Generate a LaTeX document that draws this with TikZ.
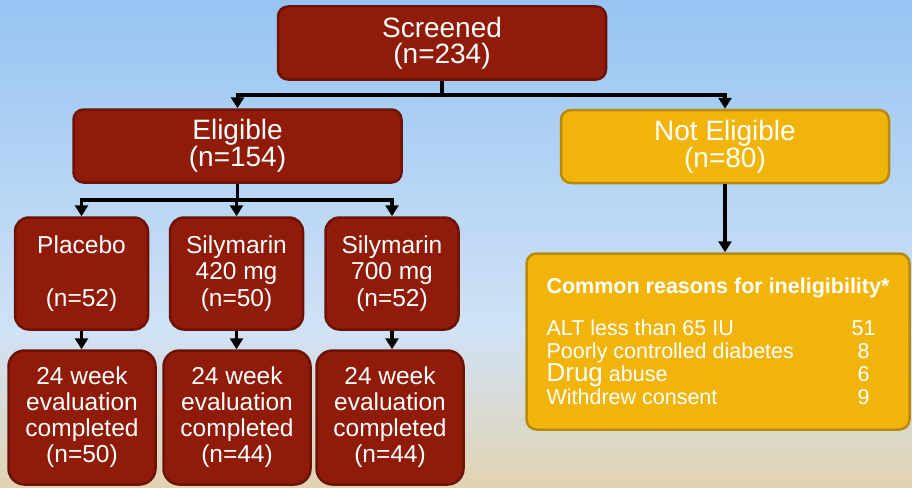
\documentclass[tikz,border=0pt]{standalone}
\usepackage{fontspec}
\setmainfont{Liberation Sans}
\usetikzlibrary{arrows.meta}
\definecolor{brique}{RGB}{143,27,8}
\definecolor{briquebord}{RGB}{108,19,6}
\definecolor{ocre}{RGB}{240,180,10}
\definecolor{ocrebord}{RGB}{184,138,12}
\definecolor{cielhaut}{RGB}{150,196,242}
\definecolor{cielmilieu}{RGB}{208,226,246}
\definecolor{sable}{RGB}{226,211,178}
\begin{document}
\begin{tikzpicture}[x=1pt,y=-1pt,
		rouge/.style={draw=briquebord,fill=brique,line width=2.5pt,rounded corners=10pt,text=white,align=center},
		jaune/.style={draw=ocrebord,fill=ocre,line width=2.5pt,rounded corners=10pt,text=white},
		grand/.style={font=\fontsize{28}{26}\selectfont,minimum width=328pt,minimum height=73pt},
		bras/.style={rouge,rounded corners=14pt,font=\fontsize{24.5}{26.5}\selectfont,minimum width=133pt,minimum height=112pt},
		suivi/.style={rouge,rounded corners=16pt,font=\fontsize{24.5}{26}\selectfont,minimum width=147pt,minimum height=134pt},
		lien/.style={line width=3.5pt},
		fleche/.style={lien,-{Triangle[length=11pt,width=13pt]}}]
		%Fond
		\shade[top color=cielhaut,bottom color=cielmilieu] (0,0) rectangle (912,330);
		\shade[top color=cielmilieu,bottom color=sable] (0,330) rectangle (912,487);
		\useasboundingbox (0,0) rectangle (912,487);
		%Noeuds du diagramme
		\node[rouge,grand] (S0) at (442,43) {Screened\\(n=234)};
		\node[rouge,grand] (E1) at (237.5,146) {Eligible\\(n=154)};
		\node[jaune,grand,align=center] (N1) at (725,146.5) {Not Eligible\\(n=80)};
		\node[bras] (B1) at (81.5,273.5) {Placebo\\[26pt](n=52)};
		\node[bras] (B2) at (236.5,273.5) {Silymarin\\420 mg\\(n=50)};
		\node[bras] (B3) at (392,273.5) {Silymarin\\700 mg\\(n=52)};
		\node[suivi] (C1) at (82,417.5) {24 week\\evaluation\\completed\\(n=50)};
		\node[suivi] (C2) at (237,417.5) {24 week\\evaluation\\completed\\(n=44)};
		\node[suivi] (C3) at (390,417.5) {24 week\\evaluation\\completed\\(n=44)};
		\node[jaune,minimum width=383pt,minimum height=176pt,align=left,font=\fontsize{21.5}{23}\selectfont] (R1) at (718,341.5) {%
			{\bfseries Common reasons for ineligibility*}\\[19pt]
			\makebox[300pt][l]{ALT less than 65 IU}\makebox[34pt]{51}\\
			\makebox[300pt][l]{Poorly controlled diabetes}\makebox[34pt]{8}\\
			\makebox[300pt][l]{{\fontsize{26}{23}\selectfont Drug} abuse}\makebox[34pt]{6}\\
			\makebox[300pt][l]{Withdrew consent}\makebox[34pt]{9}};
		%Points de branchement
		\coordinate (J0) at (442,95);
		\coordinate (J1) at (237.5,200);
		%Liens
		\draw[lien] (S0) -- (J0);
		\draw[fleche] (J0) -| (E1);
		\draw[fleche] (J0) -| (N1);
		\draw[lien] (E1) -- (J1);
		\draw[fleche] (J1) -| (B1);
		\draw[fleche] (J1) -| (B2);
		\draw[fleche] (J1) -| (B3);
		\draw[fleche] (B1.south) -- (B1.south |- C1.north);
		\draw[fleche] (B2.south) -- (B2.south |- C2.north);
		\draw[fleche] (B3.south) -- (B3.south |- C3.north);
		\draw[fleche] (N1.south) -- (N1.south |- R1.north);
	\end{tikzpicture}
\end{document}
